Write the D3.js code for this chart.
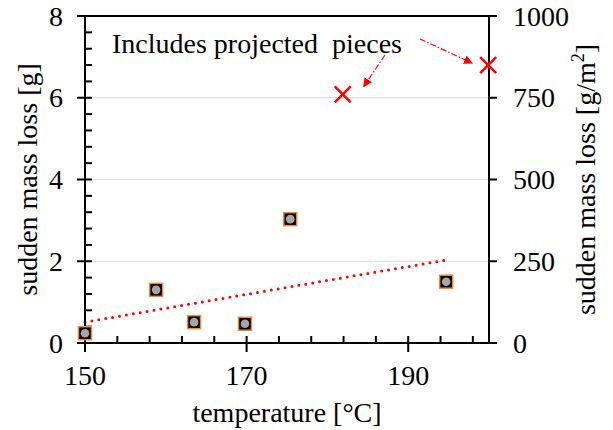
<!DOCTYPE html>
<html>
<head>
<meta charset="utf-8">
<script src="https://cdn.jsdelivr.net/npm/d3@7"></script>
<style>
  body { margin: 0; background: #fff; }
  text { font-family: "Liberation Serif", "Times New Roman", serif; fill: #000; }
</style>
</head>
<body>
<svg id="chart" width="613" height="430"></svg>
<script>
;'use strict';

// measured points, left axis [g]
var temps = [150, 158.8, 163.5, 169.8, 175.4, 194.7]
var massLoss = [0.24, 1.30, 0.51, 0.47, 3.03, 1.50]

// points that include projected pieces, right axis [g/m2]
var projTemps = [181.9, 199.9]
var projLoss = [760, 850]

// dotted linear trend
var trendTemps = [150, 194.7]
var trendLoss = [0.51, 2.03]

var xMajor = [150, 170, 190]
var yMajor = [0, 2, 4, 6, 8]
var y2Ticks = [0, 250, 500, 750, 1000]
var gridVals = [2, 4, 6]

var W = 613, H = 430
  , x0 = 85, x1 = 489, yTop = 16, yBot = 343
  , fs = 28

var svg = d3.select('#chart')

var x = d3.scaleLinear().domain([150, 200]).range([x0, x1])
var y = d3.scaleLinear().domain([0, 8]).range([yBot, yTop])
var y2 = d3.scaleLinear().domain([0, 1000]).range([yBot, yTop])

var xMinor = d3.range(150, 200, 4).filter(function(v) { return xMajor.indexOf(v) < 0 })
var yMinor = d3.range(0, 8, 0.4).map(function(v) { return +v.toFixed(1) })
  .filter(function(v) { return yMajor.indexOf(v) < 0 })

// gridlines
svg.append('g').selectAll('line').data(gridVals).join('line')
  .attr('x1', x0).attr('x2', x1)
  .attr('y1', function(d) { return y(d) }).attr('y2', function(d) { return y(d) })
  .attr('stroke', '#d9d9d9').attr('stroke-width', 1.2)

// arrow marker
svg.append('defs').append('marker')
  .attr('id', 'head')
  .attr('viewBox', '0 0 10 10')
  .attr('refX', 9).attr('refY', 5)
  .attr('markerWidth', 9).attr('markerHeight', 9)
  .attr('markerUnits', 'userSpaceOnUse')
  .attr('orient', 'auto')
  .append('path').attr('d', 'M0,0L10,5L0,10Z').attr('fill', '#ff0000')

// trend line
svg.append('line')
  .attr('x1', x(trendTemps[0])).attr('y1', y(trendLoss[0]))
  .attr('x2', x(trendTemps[1])).attr('y2', y(trendLoss[1]))
  .attr('stroke', '#ff0000').attr('stroke-width', 3)
  .attr('stroke-linecap', 'round').attr('stroke-dasharray', '0 7')

// axes frame
var axes = svg.append('g').attr('stroke', '#000').attr('stroke-width', 2).attr('fill', 'none')
axes.append('line').attr('x1', x0 - 8).attr('x2', x1 + 8).attr('y1', yTop).attr('y2', yTop)
axes.append('line').attr('x1', x0 - 8).attr('x2', x1 + 8).attr('y1', yBot).attr('y2', yBot)
axes.append('line').attr('x1', x0).attr('x2', x0).attr('y1', yTop).attr('y2', yBot + 9)
axes.append('line').attr('x1', x1).attr('x2', x1).attr('y1', yTop).attr('y2', yBot)

// x ticks: major cross the axis, minor point inward
axes.selectAll('.xM').data(xMajor).join('line')
  .attr('x1', function(d) { return x(d) }).attr('x2', function(d) { return x(d) })
  .attr('y1', yBot - 7).attr('y2', yBot + 9)
axes.selectAll('.xm').data(xMinor).join('line')
  .attr('x1', function(d) { return x(d) }).attr('x2', function(d) { return x(d) })
  .attr('y1', yBot - 7).attr('y2', yBot)

// left y ticks
axes.selectAll('.yM').data(yMajor).join('line')
  .attr('x1', x0 - 8).attr('x2', x0 + 7)
  .attr('y1', function(d) { return y(d) }).attr('y2', function(d) { return y(d) })
axes.selectAll('.ym').data(yMinor).join('line')
  .attr('x1', x0).attr('x2', x0 + 7)
  .attr('y1', function(d) { return y(d) }).attr('y2', function(d) { return y(d) })

// right y ticks, outward only
axes.selectAll('.y2').data(y2Ticks).join('line')
  .attr('x1', x1).attr('x2', x1 + 8)
  .attr('y1', function(d) { return y2(d) }).attr('y2', function(d) { return y2(d) })

// tick labels
svg.append('g').selectAll('text').data(yMajor).join('text')
  .attr('x', 63).attr('y', function(d) { return y(d) }).attr('dy', '0.34em')
  .attr('text-anchor', 'end').attr('font-size', fs)
  .text(function(d) { return d })

svg.append('g').selectAll('text').data(y2Ticks).join('text')
  .attr('x', 513).attr('y', function(d) { return y2(d) }).attr('dy', '0.34em')
  .attr('font-size', fs)
  .text(function(d) { return d })

svg.append('g').selectAll('text').data(xMajor).join('text')
  .attr('x', function(d) { return x(d) }).attr('y', 385)
  .attr('text-anchor', 'middle').attr('font-size', fs)
  .text(function(d) { return d })

// axis titles
svg.append('text')
  .attr('transform', 'translate(' + [287, 422] + ')')
  .attr('text-anchor', 'middle').attr('font-size', fs)
  .text('temperature [°C]')

svg.append('text')
  .attr('transform', 'translate(' + [37, (yTop + yBot) / 2] + ') rotate(-90)')
  .attr('text-anchor', 'middle').attr('font-size', fs)
  .text('sudden mass loss [g]')

var t2 = svg.append('text')
  .attr('transform', 'translate(' + [595, (yTop + yBot) / 2] + ') rotate(-90)')
  .attr('text-anchor', 'middle').attr('font-size', fs)
t2.append('tspan').text('sudden mass loss [g/m')
t2.append('tspan').attr('font-size', fs * 0.65).attr('dy', -fs * 0.38).text('2')
t2.append('tspan').attr('dy', fs * 0.38).text(']')

// measured points: black square, orange edge, grey dot
var pts = svg.append('g').selectAll('g').data(d3.zip(temps, massLoss)).join('g')
  .attr('transform', function(d) { return 'translate(' + [x(d[0]), y(d[1])] + ')' })
pts.append('rect')
  .attr('x', -6.5).attr('y', -6.5).attr('width', 13).attr('height', 13)
  .attr('fill', '#000').attr('stroke', '#f08a3c').attr('stroke-width', 1.5)
pts.append('circle').attr('r', 4.3).attr('fill', '#a6a6a6')

// projected points: red crosses
var s = 8
svg.append('g').selectAll('path').data(d3.zip(projTemps, projLoss)).join('path')
  .attr('d', function(d) {
    var cx = x(d[0]), cy = y2(d[1])
    return 'M' + (cx - s) + ',' + (cy - s) + 'L' + (cx + s) + ',' + (cy + s)
      + 'M' + (cx - s) + ',' + (cy + s) + 'L' + (cx + s) + ',' + (cy - s)
  })
  .attr('stroke', '#ff0000').attr('stroke-width', 2.5).attr('fill', 'none')

// annotation
svg.append('text')
  .attr('x', 112).attr('y', 53).attr('font-size', fs)
  .style('white-space', 'pre')
  .text('Includes projected  pieces')

// annotation arrows, anchored on the red crosses
var arrows = [
    { from: [385, 55], to: [x(projTemps[0]) + 21, y2(projLoss[0]) - 8] }
  , { from: [420, 39], to: [x(projTemps[1]) - 16, y2(projLoss[1]) - 2] }
]
svg.append('g').selectAll('line').data(arrows).join('line')
  .attr('x1', function(d) { return d.from[0] }).attr('y1', function(d) { return d.from[1] })
  .attr('x2', function(d) { return d.to[0] }).attr('y2', function(d) { return d.to[1] })
  .attr('stroke', '#ff0000').attr('stroke-width', 1.2)
  .attr('stroke-dasharray', '6 2 1.5 2')
  .attr('marker-end', 'url(#head)')
</script>
</body>
</html>
